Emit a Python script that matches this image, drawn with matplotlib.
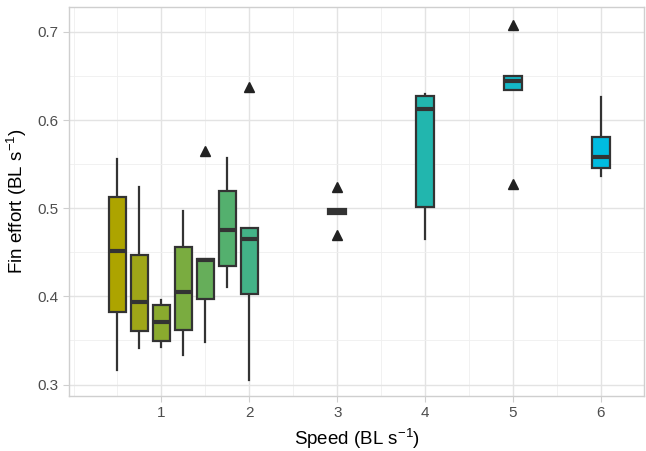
import matplotlib
matplotlib.use("Agg")
import matplotlib.pyplot as plt
from matplotlib.ticker import MultipleLocator

plt.rcParams['font.family'] = ['Liberation Sans', 'DejaVu Sans']
plt.rcParams['mathtext.fontset'] = 'custom'
plt.rcParams['mathtext.rm'] = 'Liberation Sans'

# speed groups and box summary values
speeds = [0.5, 0.75, 1.0, 1.25, 1.5, 1.75, 2.0, 3, 4, 5, 6]
whislo = [0.317, 0.341, 0.342, 0.333, 0.348, 0.411, 0.305, 0.4935, 0.465, 0.634, 0.536]
q1 = [0.382, 0.361, 0.349, 0.362, 0.397, 0.435, 0.403, 0.4935, 0.501, 0.634, 0.546]
med = [0.452, 0.394, 0.371, 0.405, 0.441, 0.475, 0.465, 0.496, 0.612, 0.644, 0.558]
q3 = [0.513, 0.447, 0.390, 0.456, 0.442, 0.520, 0.478, 0.4995, 0.627, 0.650, 0.581]
whishi = [0.556, 0.524, 0.396, 0.497, 0.442, 0.557, 0.478, 0.4995, 0.629, 0.650, 0.626]
outliers = [[], [], [], [], [0.565], [], [0.638], [0.524, 0.470], [], [0.708, 0.528], []]
colors = ['#ADA400', '#9FA618', '#8AAA2E', '#7AAC40', '#66AE5A', '#54B06E',
          '#43B287', '#30B49C', '#22B6AE', '#14B9C8', '#00BCE0']

stats = []
for i in range(len(speeds)):
    stats.append(dict(whislo=whislo[i], q1=q1[i], med=med[i], q3=q3[i],
                      whishi=whishi[i], fliers=outliers[i]))

fig = plt.figure(figsize=(6.46, 4.51), dpi=100)
ax = fig.add_axes([0.107, 0.122, 0.89, 0.862])

bp = ax.bxp(stats, positions=speeds, widths=0.2, patch_artist=True,
            showcaps=False, manage_ticks=False,
            boxprops=dict(edgecolor='#333333', linewidth=1.6),
            medianprops=dict(color='#333333', linewidth=3),
            whiskerprops=dict(color='#333333', linewidth=1.6),
            flierprops=dict(marker='^', markerfacecolor='#222222',
                            markeredgecolor='#222222', markersize=7))
for patch, c in zip(bp['boxes'], colors):
    patch.set_facecolor(c)
for b in bp['boxes']:
    b.set_zorder(3)
for m in bp['medians']:
    m.set_zorder(4)

ax.set_xlim(-0.05, 6.49)
ax.set_ylim(0.287, 0.728)
ax.xaxis.set_major_locator(MultipleLocator(1))
ax.xaxis.set_minor_locator(MultipleLocator(0.5))
ax.yaxis.set_major_locator(MultipleLocator(0.1))
ax.yaxis.set_minor_locator(MultipleLocator(0.05))
ax.set_xticks([1, 2, 3, 4, 5, 6])
ax.set_xticklabels(['1', '2', '3', '4', '5', '6'])
ax.set_yticks([0.3, 0.4, 0.5, 0.6, 0.7])
ax.set_yticklabels(['0.3', '0.4', '0.5', '0.6', '0.7'])

ax.grid(which='major', color='#e3e3e3', linewidth=1.0)
ax.grid(which='minor', color='#efefef', linewidth=0.6)
ax.set_axisbelow(True)
for s in ax.spines.values():
    s.set_color('#cfcfcf')
    s.set_linewidth(1.0)
ax.tick_params(which='major', colors='#cfcfcf', labelcolor='#4d4d4d',
               labelsize=11, length=4)
ax.tick_params(which='minor', length=0)

ax.set_xlabel('Speed (BL s$^{-1}$)', fontsize=13.5, labelpad=4)
ax.set_ylabel('Fin effort (BL s$^{-1}$)', fontsize=13.5, labelpad=6)

fig.savefig('out.png', dpi=100)
